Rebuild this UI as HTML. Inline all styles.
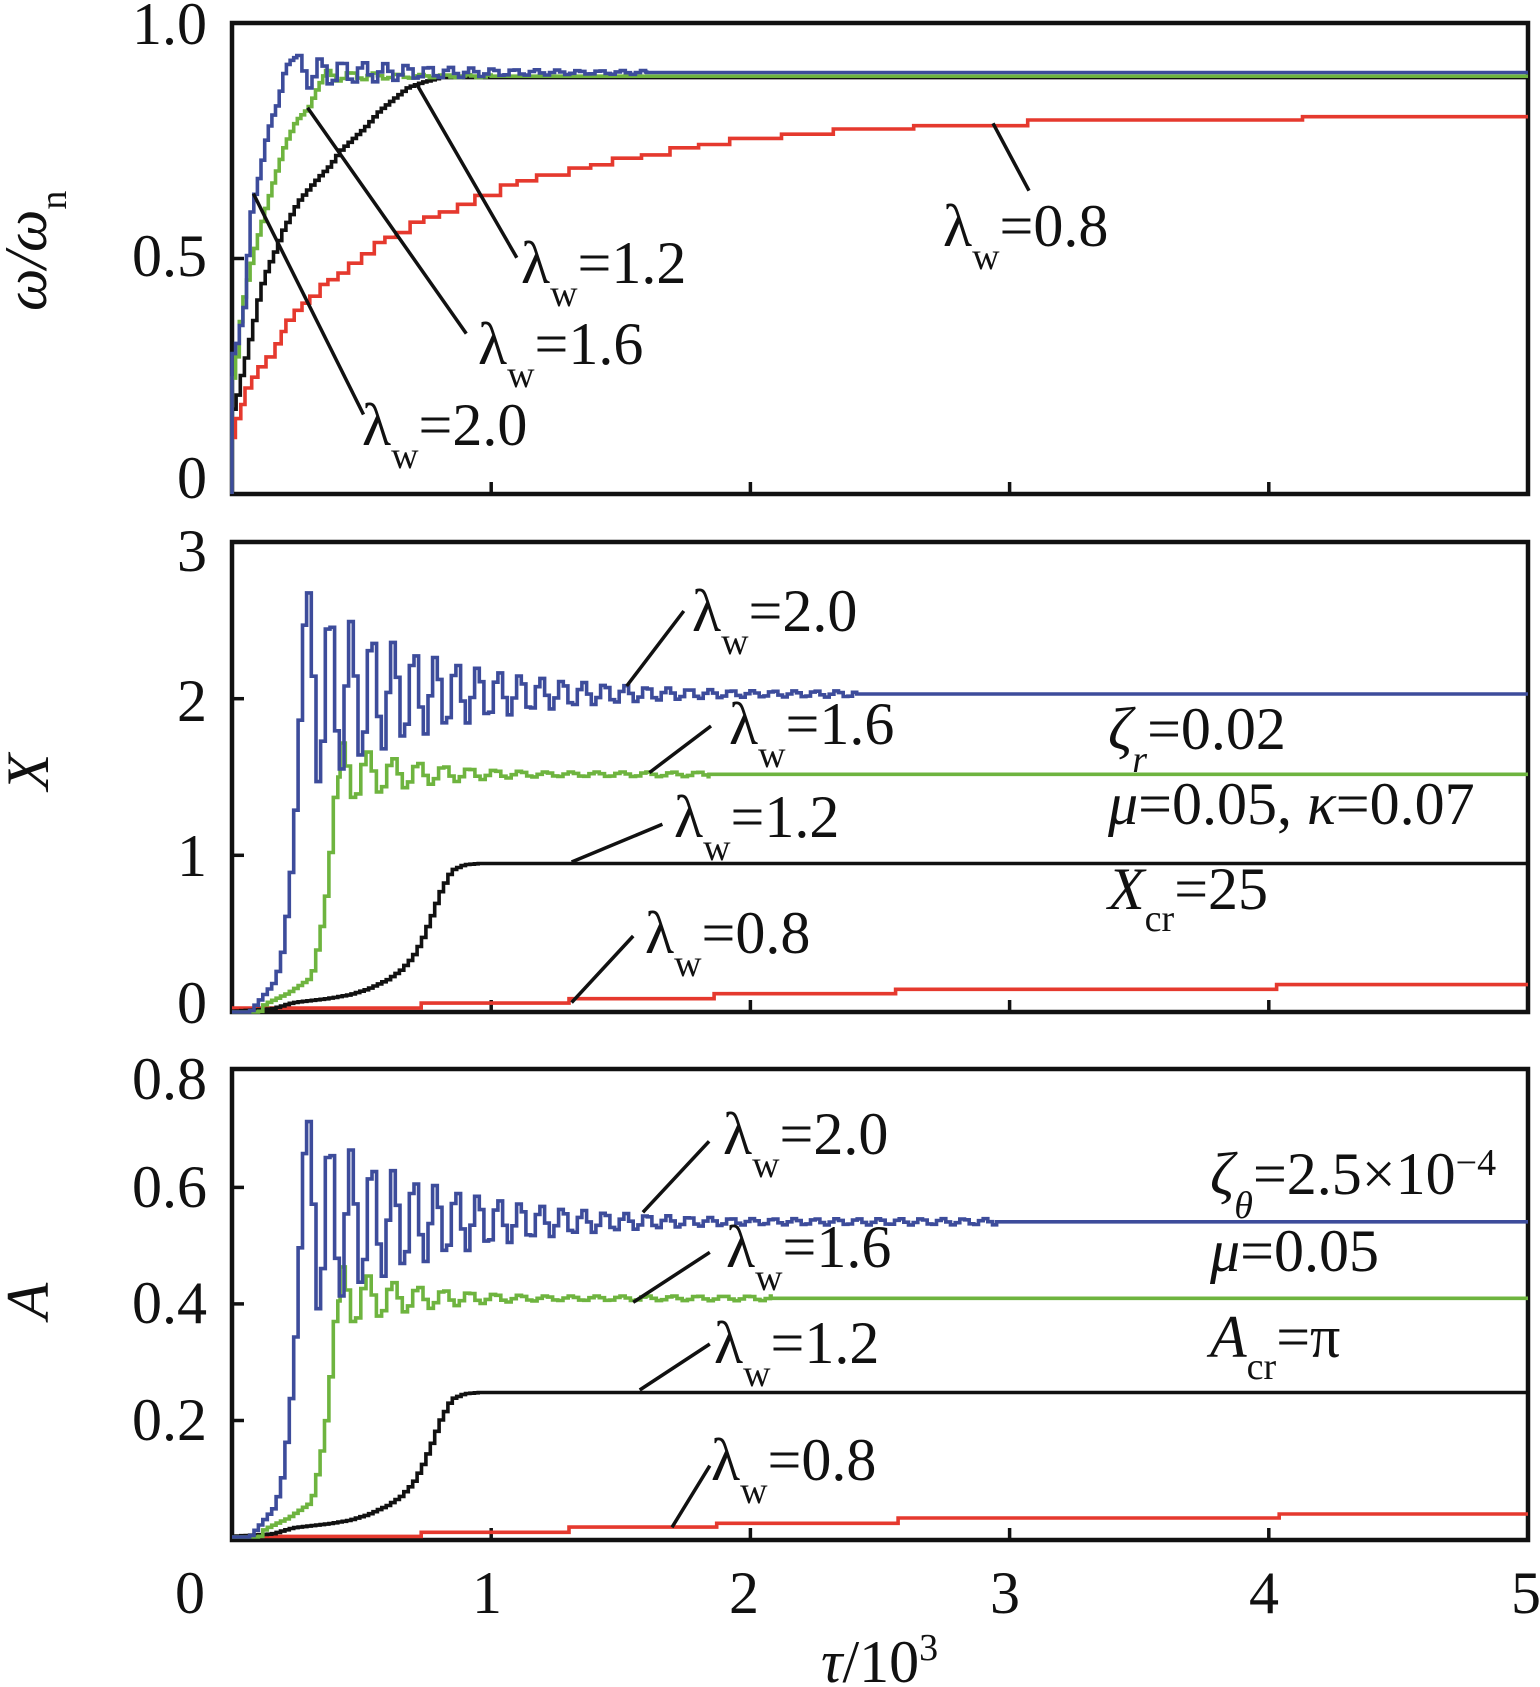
<!DOCTYPE html>
<html><head><meta charset="utf-8">
<style>
html,body{margin:0;padding:0;background:#fff;}
svg{display:block;}
svg text{font-family:"Liberation Serif","Times New Roman",serif !important;fill:#111;}
</style></head><body>
<svg id="c" xmlns="http://www.w3.org/2000/svg" width="1540" height="1687" viewBox="0 0 1540 1687" font-family="'Liberation Serif', 'Times New Roman', serif" style="font-family:'Liberation Serif','Times New Roman',serif">
<rect width="1540" height="1687" fill="#fff"/>

<!-- frames -->
<g fill="none" stroke="#111" stroke-width="4.5">
<rect x="232" y="23" width="1296" height="471"/>
<rect x="232" y="542" width="1296" height="470"/>
<rect x="232" y="1069" width="1296" height="471"/>
</g>
<!-- ticks -->
<g stroke="#111" stroke-width="3.5">
<line x1="232" y1="258.5" x2="244" y2="258.5"/>
<line x1="491.2" y1="494" x2="491.2" y2="482"/><line x1="750.4" y1="494" x2="750.4" y2="482"/><line x1="1009.6" y1="494" x2="1009.6" y2="482"/><line x1="1268.8" y1="494" x2="1268.8" y2="482"/>
<line x1="232" y1="855.3" x2="244" y2="855.3"/><line x1="232" y1="698.7" x2="244" y2="698.7"/>
<line x1="491.2" y1="1012" x2="491.2" y2="1000"/><line x1="750.4" y1="1012" x2="750.4" y2="1000"/><line x1="1009.6" y1="1012" x2="1009.6" y2="1000"/><line x1="1268.8" y1="1012" x2="1268.8" y2="1000"/>
<line x1="232" y1="1420.5" x2="244" y2="1420.5"/><line x1="232" y1="1303.9" x2="244" y2="1303.9"/><line x1="232" y1="1187.4" x2="244" y2="1187.4"/>
<line x1="491.2" y1="1540" x2="491.2" y2="1528"/><line x1="750.4" y1="1540" x2="750.4" y2="1528"/><line x1="1009.6" y1="1540" x2="1009.6" y2="1528"/><line x1="1268.8" y1="1540" x2="1268.8" y2="1528"/>
</g>

<g id="curves" fill="none"></g>

<!-- leader lines -->
<g stroke="#111" stroke-width="3.5" fill="none">
<line x1="253.4" y1="193.6" x2="363.5" y2="414.5"/>
<line x1="307.6" y1="107.7" x2="466.3" y2="333.6"/>
<line x1="417.6" y1="85.7" x2="516.8" y2="257.7"/>
<line x1="993" y1="123.3" x2="1029" y2="190.7"/>
<line x1="626.7" y1="686" x2="683.8" y2="611"/>
<line x1="649.4" y1="772.6" x2="711" y2="726"/>
<line x1="571.6" y1="862" x2="662.4" y2="824.3"/>
<line x1="571.6" y1="1002.6" x2="633.2" y2="936"/>
<line x1="642.9" y1="1212.3" x2="709.1" y2="1141.3"/>
<line x1="633.2" y1="1302.3" x2="709.8" y2="1252.3"/>
<line x1="639.7" y1="1390" x2="709.8" y2="1344"/>
<line x1="672" y1="1527.3" x2="709.8" y2="1465.7"/>
</g>

<g font-family="'Liberation Serif', 'Times New Roman', serif" fill="#111">
<!-- y tick labels -->
<g font-size="60" text-anchor="end">
<text x="207" y="44">1.0</text>
<text x="207" y="276">0.5</text>
<text x="207" y="498">0</text>
<text x="207" y="571">3</text>
<text x="207" y="721">2</text>
<text x="207" y="876">1</text>
<text x="207" y="1023">0</text>
<text x="207" y="1099">0.8</text>
<text x="207" y="1207">0.6</text>
<text x="207" y="1323">0.4</text>
<text x="207" y="1440">0.2</text>
</g>
<!-- x tick labels -->
<g font-size="60" text-anchor="middle">
<text x="190" y="1613">0</text>
<text x="487" y="1613">1</text>
<text x="744" y="1613">2</text>
<text x="1005" y="1613">3</text>
<text x="1264" y="1613">4</text>
<text x="1526" y="1613">5</text>
</g>

<!-- axis titles -->
<text transform="translate(46,311) rotate(-90)" font-size="60"><tspan font-style="italic">ω/ω</tspan><tspan font-size="38" dy="20">n</tspan></text>
<text transform="translate(48,772) rotate(-90)" font-size="60" font-style="italic" text-anchor="middle">X</text>
<text transform="translate(48,1301) rotate(-90)" font-size="60" font-style="italic" text-anchor="middle">A</text>
<text x="821" y="1682" font-size="60"><tspan font-style="italic">τ</tspan>/10<tspan font-size="38" dy="-22">3</tspan></text>

<!-- plot 1 labels -->
<g font-size="60">
<text x="521" y="283">λ<tspan font-size="38" dy="23">w</tspan><tspan dy="-23">=1.2</tspan></text>
<text x="478" y="364">λ<tspan font-size="38" dy="23">w</tspan><tspan dy="-23">=1.6</tspan></text>
<text x="362" y="445">λ<tspan font-size="38" dy="23">w</tspan><tspan dy="-23">=2.0</tspan></text>
<text x="943" y="246">λ<tspan font-size="38" dy="23">w</tspan><tspan dy="-23">=0.8</tspan></text>
</g>
<!-- plot 2 labels -->
<g font-size="60">
<text x="692" y="631">λ<tspan font-size="38" dy="23">w</tspan><tspan dy="-23">=2.0</tspan></text>
<text x="729" y="744">λ<tspan font-size="38" dy="23">w</tspan><tspan dy="-23">=1.6</tspan></text>
<text x="674" y="837">λ<tspan font-size="38" dy="23">w</tspan><tspan dy="-23">=1.2</tspan></text>
<text x="645" y="953">λ<tspan font-size="38" dy="23">w</tspan><tspan dy="-23">=0.8</tspan></text>
<text x="1108" y="749"><tspan font-style="italic">ζ</tspan><tspan font-size="38" dy="23" font-style="italic">r</tspan><tspan dy="-23">=0.02</tspan></text>
<text x="1108" y="824"><tspan font-style="italic">μ</tspan>=0.05, <tspan font-style="italic">κ</tspan>=0.07</text>
<text x="1108" y="909"><tspan font-style="italic">X</tspan><tspan font-size="38" dy="22">cr</tspan><tspan dy="-22">=25</tspan></text>
</g>
<!-- plot 3 labels -->
<g font-size="60">
<text x="723" y="1154">λ<tspan font-size="38" dy="23">w</tspan><tspan dy="-23">=2.0</tspan></text>
<text x="726" y="1267">λ<tspan font-size="38" dy="23">w</tspan><tspan dy="-23">=1.6</tspan></text>
<text x="714" y="1363">λ<tspan font-size="38" dy="23">w</tspan><tspan dy="-23">=1.2</tspan></text>
<text x="711" y="1480">λ<tspan font-size="38" dy="23">w</tspan><tspan dy="-23">=0.8</tspan></text>
<text x="1210" y="1194"><tspan font-style="italic">ζ</tspan><tspan font-size="38" dy="24" font-style="italic">θ</tspan><tspan dy="-24">=2.5×10</tspan><tspan font-size="38" dy="-19">−4</tspan></text>
<text x="1210" y="1271"><tspan font-style="italic">μ</tspan>=0.05</text>
<text x="1210" y="1357"><tspan font-style="italic">A</tspan><tspan font-size="38" dy="22">cr</tspan><tspan dy="-22">=π</tspan></text>
</g>
</g>
</svg>
<script>
(function(){
var NS="http://www.w3.org/2000/svg";
var g=document.getElementById('curves');
function X(t){return 232+t*259.2;}
function Y1(v){return 494-v*471;}
function Y2(v){return 1012-v*156.67;}
function Y3(v){return 1537-v*582.7;}
function lin(a,t){
  if(t<=a[0][0])return a[0][1];
  for(var i=1;i<a.length;i++){
    if(t<=a[i][0]){var t0=a[i-1][0],v0=a[i-1][1],t1=a[i][0],v1=a[i][1];
      return t1===t0?v1:v0+(v1-v0)*(t-t0)/(t1-t0);}
  }
  return a[a.length-1][1];
}
function series(o){
  var pts=[];
  if(o.pre){for(var j=0;j<o.pre.length;j++)pts.push(o.pre[j]);}
  var r=o.rise;
  pts.push([r[0][0],r[0][1]]);
  for(var t=r[0][0]+o.dt;t<o.t0-1e-9;t+=o.dt)pts.push([t,lin(r,t)]);
  if(o.P){
    for(var t2=o.t0;t2<o.tEnd;t2+=o.dto){
      var A=Math.max(o.A0*Math.exp(-(t2-o.t0)/o.d),o.floor);
      pts.push([t2,o.mean+A*Math.cos(2*Math.PI*(t2-o.t0)/o.P)]);
    }
    pts.push([o.tEnd,o.mean]);
  } else {
    pts.push([o.t0,o.mean]);
  }
  pts.push([5,o.mean]);
  return pts;
}
function stairs(pts,Y,k){
  k=k||1;
  var d='M'+X(pts[0][0]).toFixed(1)+','+Y(pts[0][1]*k).toFixed(1);
  for(var i=1;i<pts.length;i++){
    d+='H'+X(pts[i][0]).toFixed(1)+'V'+Y(pts[i][1]*k).toFixed(1);
  }
  return d;
}
function add(d,c,w){
  var p=document.createElementNS(NS,'path');
  p.setAttribute('d',d);p.setAttribute('stroke',c);
  p.setAttribute('stroke-width',w||3.6);p.setAttribute('fill','none');
  p.setAttribute('stroke-linejoin','miter');
  g.appendChild(p);
}
var BLUE="#3D4C9B",GREEN="#6EB43F",RED="#E5392E",BLK="#111111";

/* ---------- plot 1 ---------- */
var red1=[[0,0],[0,0.12],[0.013,0.16],[0.034,0.19],[0.05,0.225],[0.076,0.248],[0.1,0.27],[0.131,0.291],[0.166,0.319],[0.19,0.345],[0.208,0.369],[0.24,0.39],[0.27,0.405],[0.3,0.42],[0.34,0.445],[0.37,0.455],[0.409,0.469],[0.45,0.49],[0.5,0.51],[0.549,0.534],[0.59,0.545],[0.633,0.555],[0.687,0.577],[0.74,0.588],[0.8,0.599],[0.87,0.615],[0.937,0.634],[1.036,0.656],[1.1,0.665],[1.175,0.677],[1.3,0.692],[1.384,0.699],[1.468,0.713],[1.58,0.72],[1.69,0.735],[1.8,0.742],[1.92,0.755],[2.12,0.764],[2.32,0.775],[2.63,0.782],[3.07,0.794],[4.13,0.801],[5,0.801]];
add(stairs(red1,Y1),RED);
var black1=series({pre:[[0,0]],rise:[[0,0.18],[0.005,0.18],[0.027,0.24],[0.055,0.305],[0.083,0.376],[0.104,0.434],[0.131,0.477],[0.159,0.512],[0.187,0.555],[0.215,0.584],[0.25,0.62],[0.292,0.648],[0.326,0.67],[0.375,0.698],[0.41,0.727],[0.466,0.756],[0.507,0.777],[0.563,0.813],[0.618,0.838],[0.674,0.863],[0.73,0.874],[0.8,0.884]],dt:0.016,t0:0.8,mean:0.884});
add(stairs(black1,Y1),BLK);
var green1=series({pre:[[0,0]],rise:[[0,0.246],[0.01,0.27],[0.034,0.398],[0.076,0.505],[0.118,0.591],[0.159,0.67],[0.2,0.742],[0.243,0.792],[0.292,0.82],[0.326,0.863],[0.361,0.899]],dt:0.014,t0:0.361,mean:0.887,A0:0.012,P:0.09,d:0.3,floor:0.003,tEnd:1.0,dto:0.02});
add(stairs(green1,Y1),GREEN);
var blue1=series({pre:[[0,0]],rise:[[0,0.298],[0.006,0.298],[0.048,0.412],[0.062,0.577],[0.083,0.634],[0.104,0.684],[0.125,0.749],[0.145,0.792],[0.173,0.831],[0.201,0.906],[0.222,0.92],[0.25,0.931]],dt:0.014,t0:0.25,mean:0.895,A0:0.036,P:0.083,d:0.5,floor:0.004,tEnd:1.6,dto:0.0195});
add(stairs(blue1,Y1),BLUE);

/* ---------- plot 2 & 3 shared shapes ---------- */
var blueRise=[[0,0],[0.063,0],[0.1,0.073],[0.16,0.196],[0.185,0.354],[0.204,0.61],[0.23,1.04],[0.25,1.66],[0.269,2.43],[0.288,2.675]];
var greenRise=[[0,0],[0.1,0],[0.121,0.05],[0.211,0.12],[0.30,0.22],[0.314,0.32],[0.333,0.48],[0.352,0.66],[0.372,0.977],[0.391,1.37],[0.41,1.515],[0.417,1.717]];
var blackRise=[[0,0.005],[0.15,0.02],[0.23,0.06],[0.365,0.086],[0.449,0.11],[0.52,0.147],[0.597,0.208],[0.648,0.269],[0.693,0.354],[0.725,0.452],[0.764,0.61],[0.796,0.758],[0.841,0.904],[0.892,0.94],[0.95,0.948]];

var red2=[[0,0.025],[0.73,0.057],[1.3,0.085],[1.86,0.117],[2.56,0.145],[4.03,0.175],[5,0.175]];
add(stairs(red2,Y2),RED);
add(stairs(series({rise:blackRise,dt:0.017,t0:0.95,mean:0.948}),Y2),BLK);
add(stairs(series({rise:greenRise,dt:0.017,t0:0.417,mean:1.517,A0:0.2,P:0.098,d:0.3,floor:0.015,tEnd:1.84,dto:0.02}),Y2),GREEN);
add(stairs(series({rise:blueRise,dt:0.017,t0:0.288,mean:2.03,A0:0.645,P:0.0815,d:0.49,floor:0.02,tEnd:2.41,dto:0.018}),Y2),BLUE);

var red3=[[0,0.001],[0.73,0.008],[1.3,0.017],[1.87,0.0235],[2.57,0.0326],[4.04,0.0395],[5,0.0395]];
add(stairs(red3,Y3),RED);
add(stairs(series({rise:blackRise,dt:0.017,t0:0.95,mean:0.948}),Y3,0.2616),BLK);
add(stairs(series({rise:greenRise,dt:0.017,t0:0.417,mean:1.517,A0:0.2,P:0.098,d:0.3,floor:0.015,tEnd:2.08,dto:0.02}),Y3,0.270),GREEN);
add(stairs(series({rise:blueRise,dt:0.017,t0:0.288,mean:2.03,A0:0.645,P:0.0815,d:0.49,floor:0.02,tEnd:2.95,dto:0.018}),Y3,0.2665),BLUE);
})();
</script>
</body></html>
